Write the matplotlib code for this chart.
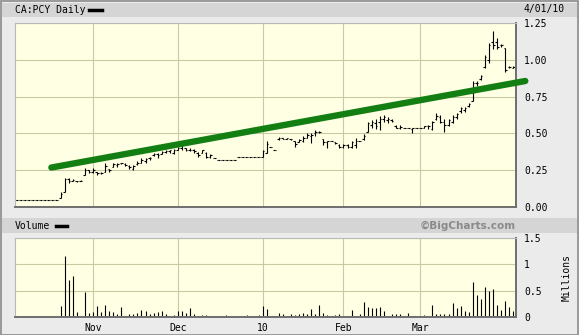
import matplotlib
matplotlib.use('Agg')
import matplotlib.pyplot as plt
from matplotlib.patches import Rectangle
from matplotlib.lines import Line2D

# trading days from early Oct 2009 to 4/01/10, index 0..123
month_labels = ['Nov', 'Dec', '10', 'Feb', 'Mar']
month_starts = [19, 40, 61, 81, 100]

opens = [0.045, 0.045, 0.045, 0.045, 0.045, 0.045, 0.045, 0.045, 0.045, 0.045,
         0.045, 0.06, 0.10, 0.19, 0.18, 0.18, 0.175, 0.22, 0.25, 0.24,
         0.235, 0.23, 0.24, 0.26, 0.27, 0.285, 0.30, 0.29, 0.28, 0.26,
         0.29, 0.30, 0.31, 0.33, 0.35, 0.36, 0.36, 0.375, 0.38, 0.37,
         0.39, 0.40, 0.40, 0.39, 0.385, 0.37, 0.37, 0.37, 0.34, 0.335,
         0.32, 0.32, 0.32, 0.32, 0.32, 0.34, 0.34, 0.34, 0.34, 0.34,
         0.34, 0.34, 0.37, 0.41, 0.39, 0.46, 0.47, 0.465, 0.46, 0.45,
         0.44, 0.45, 0.47, 0.48, 0.50, 0.51, 0.46, 0.44, 0.445, 0.44,
         0.42, 0.41, 0.42, 0.41, 0.42, 0.445, 0.46, 0.51, 0.56, 0.57,
         0.58, 0.60, 0.59, 0.59, 0.55, 0.54, 0.54, 0.54, 0.53, 0.535,
         0.535, 0.54, 0.55, 0.53, 0.60, 0.61, 0.58, 0.56, 0.58, 0.61,
         0.65, 0.66, 0.685, 0.72, 0.84, 0.87, 0.95, 1.00, 1.12, 1.12,
         1.10, 1.08, 0.95, 0.945]
highs = [0.045, 0.045, 0.045, 0.045, 0.045, 0.045, 0.045, 0.045, 0.045, 0.045,
         0.045, 0.10, 0.20, 0.20, 0.19, 0.18, 0.185, 0.265, 0.25, 0.265,
         0.24, 0.235, 0.30, 0.26, 0.30, 0.30, 0.30, 0.30, 0.285, 0.285,
         0.31, 0.33, 0.33, 0.34, 0.37, 0.365, 0.38, 0.385, 0.39, 0.395,
         0.41, 0.45, 0.40, 0.40, 0.395, 0.375, 0.39, 0.375, 0.36, 0.335,
         0.32, 0.32, 0.32, 0.32, 0.32, 0.34, 0.34, 0.34, 0.34, 0.34,
         0.34, 0.39, 0.445, 0.41, 0.39, 0.475, 0.47, 0.47, 0.465, 0.45,
         0.46, 0.48, 0.50, 0.50, 0.525, 0.515, 0.46, 0.45, 0.445, 0.44,
         0.425, 0.43, 0.43, 0.445, 0.47, 0.445, 0.495, 0.58, 0.59, 0.60,
         0.62, 0.625, 0.61, 0.60, 0.56, 0.56, 0.54, 0.54, 0.54, 0.535,
         0.535, 0.55, 0.56, 0.585, 0.64, 0.625, 0.60, 0.60, 0.625, 0.64,
         0.68, 0.68, 0.705, 0.855, 0.855, 0.90, 1.035, 1.115, 1.195, 1.15,
         1.11, 1.08, 0.955, 0.955]
lows = [0.045, 0.045, 0.045, 0.045, 0.045, 0.045, 0.045, 0.045, 0.045, 0.045,
        0.045, 0.06, 0.10, 0.165, 0.175, 0.17, 0.175, 0.22, 0.23, 0.23,
        0.22, 0.225, 0.24, 0.24, 0.27, 0.275, 0.295, 0.28, 0.26, 0.25,
        0.285, 0.30, 0.30, 0.32, 0.347, 0.33, 0.36, 0.37, 0.37, 0.36,
        0.39, 0.39, 0.38, 0.38, 0.37, 0.34, 0.37, 0.33, 0.33, 0.335,
        0.32, 0.32, 0.32, 0.32, 0.32, 0.34, 0.34, 0.34, 0.34, 0.34,
        0.34, 0.34, 0.365, 0.41, 0.39, 0.455, 0.46, 0.46, 0.455, 0.41,
        0.44, 0.44, 0.47, 0.435, 0.485, 0.50, 0.42, 0.40, 0.445, 0.43,
        0.40, 0.40, 0.40, 0.40, 0.40, 0.445, 0.456, 0.51, 0.535, 0.53,
        0.525, 0.58, 0.57, 0.58, 0.535, 0.53, 0.54, 0.54, 0.50, 0.535,
        0.535, 0.535, 0.53, 0.525, 0.59, 0.57, 0.51, 0.55, 0.57, 0.60,
        0.64, 0.645, 0.68, 0.72, 0.82, 0.865, 0.945, 0.98, 1.07, 1.07,
        1.09, 0.92, 0.945, 0.945]
closes = [0.045, 0.045, 0.045, 0.045, 0.045, 0.045, 0.045, 0.045, 0.045, 0.045,
          0.045, 0.09, 0.19, 0.18, 0.185, 0.175, 0.18, 0.25, 0.24, 0.25,
          0.23, 0.23, 0.28, 0.25, 0.29, 0.295, 0.297, 0.285, 0.27, 0.28,
          0.30, 0.32, 0.325, 0.335, 0.36, 0.35, 0.375, 0.38, 0.385, 0.39,
          0.40, 0.43, 0.39, 0.385, 0.38, 0.35, 0.385, 0.34, 0.35, 0.335,
          0.32, 0.32, 0.32, 0.32, 0.32, 0.34, 0.34, 0.34, 0.34, 0.34,
          0.34, 0.38, 0.43, 0.41, 0.39, 0.47, 0.465, 0.47, 0.46, 0.43,
          0.455, 0.47, 0.49, 0.49, 0.51, 0.51, 0.44, 0.445, 0.445, 0.435,
          0.41, 0.42, 0.41, 0.44, 0.45, 0.445, 0.48, 0.57, 0.58, 0.55,
          0.60, 0.61, 0.60, 0.585, 0.54, 0.545, 0.54, 0.54, 0.535, 0.535,
          0.535, 0.547, 0.55, 0.58, 0.62, 0.58, 0.56, 0.59, 0.61, 0.63,
          0.67, 0.67, 0.70, 0.84, 0.84, 0.89, 1.02, 1.10, 1.10, 1.09,
          1.10, 0.93, 0.95, 0.95]
# volume in millions
volume = [0, 0, 0, 0, 0, 0, 0, 0, 0, 0,
          0, 0.20, 1.15, 0.70, 0.77, 0.09, 0, 0.47, 0.08, 0.09,
          0.21, 0.09, 0.23, 0.11, 0.09, 0.05, 0.19, 0, 0.06, 0.06,
          0.08, 0.13, 0.11, 0.06, 0.08, 0.10, 0.11, 0.06, 0, 0.04,
          0.11, 0.11, 0.08, 0.18, 0.06, 0, 0.04, 0.04, 0, 0,
          0, 0, 0.04, 0, 0, 0, 0, 0.04, 0, 0,
          0.04, 0.21, 0.15, 0, 0, 0.08, 0.06, 0, 0.05, 0.04,
          0.06, 0.08, 0.06, 0.16, 0.06, 0.23, 0.08, 0.04, 0, 0.04,
          0.06, 0, 0, 0.13, 0, 0.06, 0.28, 0.19, 0.17, 0.18,
          0.19, 0.11, 0, 0.06, 0.06, 0.06, 0, 0.08, 0, 0,
          0, 0.04, 0, 0.23, 0.06, 0.06, 0.06, 0.06, 0.27, 0.18,
          0.21, 0.11, 0.09, 0.66, 0.42, 0.34, 0.57, 0.50, 0.53, 0.23,
          0.14, 0.31, 0.19, 0.11]

# trend line drawn by hand on the chart (day, price)
trend_x = [8.7, 126.0]
trend_y = [0.268, 0.856]

price_ticks = [0.0, 0.25, 0.5, 0.75, 1.0, 1.25]
vol_ticks = [0, 0.5, 1, 1.5]
vol_tick_labels = ['0', '0.5', '1', '1.5']

W, H = 579, 335
bg = '#ebebeb'
band = '#d5d5d5'
face = '#ffffe4'
grid_col = '#cacaa2'
mono = 'DejaVu Sans Mono'

fig = plt.figure(figsize=(W / 100, H / 100), dpi=100, facecolor=bg)


def px_axes(left, top, right, bottom):
    return fig.add_axes([left / W, 1 - bottom / H, (right - left) / W, (bottom - top) / H])


# header bands
fig.patches.append(Rectangle((2 / W, 1 - 17 / H), 575 / W, 14 / H, transform=fig.transFigure,
                             facecolor=band, edgecolor='none', zorder=0))
fig.patches.append(Rectangle((2 / W, 1 - 233 / H), 575 / W, 15 / H, transform=fig.transFigure,
                             facecolor=band, edgecolor='none', zorder=0))
fig.patches.append(Rectangle((0.5 / W, 0.5 / H), (W - 1.5) / W, (H - 1.5) / H, transform=fig.transFigure,
                             facecolor='none', edgecolor='#8c8c8c', lw=1.2, zorder=0))

fig.text(15 / W, 1 - 10 / H, 'CA:PCY Daily', family=mono, fontsize=7, va='center', ha='left')
fig.lines.append(Line2D([89 / W, 102 / W], [1 - 10 / H, 1 - 10 / H], transform=fig.transFigure,
                        color='black', lw=2.5))
fig.text(565 / W, 1 - 9 / H, '4/01/10', family=mono, fontsize=7, va='center', ha='right')
fig.text(15 / W, 1 - 226 / H, 'Volume', family=mono, fontsize=7, va='center', ha='left')
fig.lines.append(Line2D([56 / W, 67 / W], [1 - 226 / H, 1 - 226 / H], transform=fig.transFigure,
                        color='black', lw=2.5))
fig.text(516 / W, 1 - 226 / H, '©BigCharts.com', fontsize=7.5, fontweight='bold',
         color='#8a8a8a', va='center', ha='right')

days = list(range(len(closes)))

# price panel
ax = px_axes(15, 23, 516, 207)
ax.set_facecolor(face)
ax.vlines(days, lows, highs, color='black', lw=0.8)
ax.hlines(opens, [d - 0.38 for d in days], days, color='black', lw=0.8)
ax.hlines(closes, days, [d + 0.38 for d in days], color='black', lw=0.8)
ax.plot(trend_x, trend_y, color='#137f13', lw=4.6, solid_capstyle='round', clip_on=False, zorder=5)
ax.set_xlim(-0.3, 123.7)
ax.set_ylim(0, 1.25)
ax.set_yticks(price_ticks)
ax.set_yticklabels(['%.2f' % t for t in price_ticks])
ax.set_xticks(month_starts)
ax.set_xticklabels([])
ax.yaxis.tick_right()
ax.tick_params(length=0, labelsize=7, pad=6)
for lab in ax.get_yticklabels():
    lab.set_family(mono)
ax.grid(True, color=grid_col, lw=0.8)
ax.set_axisbelow(True)

# volume panel
vx = px_axes(15, 238, 516, 317)
vx.set_facecolor(face)
vx.vlines(days, 0, volume, color='black', lw=0.8)
vx.set_xlim(-0.3, 123.7)
vx.set_ylim(0, 1.5)
vx.set_yticks(vol_ticks)
vx.set_yticklabels(vol_tick_labels)
vx.set_xticks(month_starts)
vx.set_xticklabels(month_labels)
vx.yaxis.tick_right()
vx.tick_params(axis='y', length=0, labelsize=7, pad=6)
vx.tick_params(axis='x', length=0, labelsize=7, pad=4)
for lab in vx.get_yticklabels() + vx.get_xticklabels():
    lab.set_family(mono)
vx.grid(True, color=grid_col, lw=0.8)
vx.set_axisbelow(True)
vx.yaxis.set_label_position('right')
vx.set_ylabel('Millions', family=mono, fontsize=7, rotation=90, labelpad=14)

for a in (ax, vx):
    a.spines['top'].set_color('#b8b8b8')
    a.spines['left'].set_color('#b8b8b8')
    a.spines['bottom'].set_color('#6e6e6e')
    a.spines['right'].set_color('#6e6e6e')
    a.spines['bottom'].set_linewidth(1.4)
    a.spines['right'].set_linewidth(1.4)

fig.savefig('out.png', dpi=100, facecolor=bg)
